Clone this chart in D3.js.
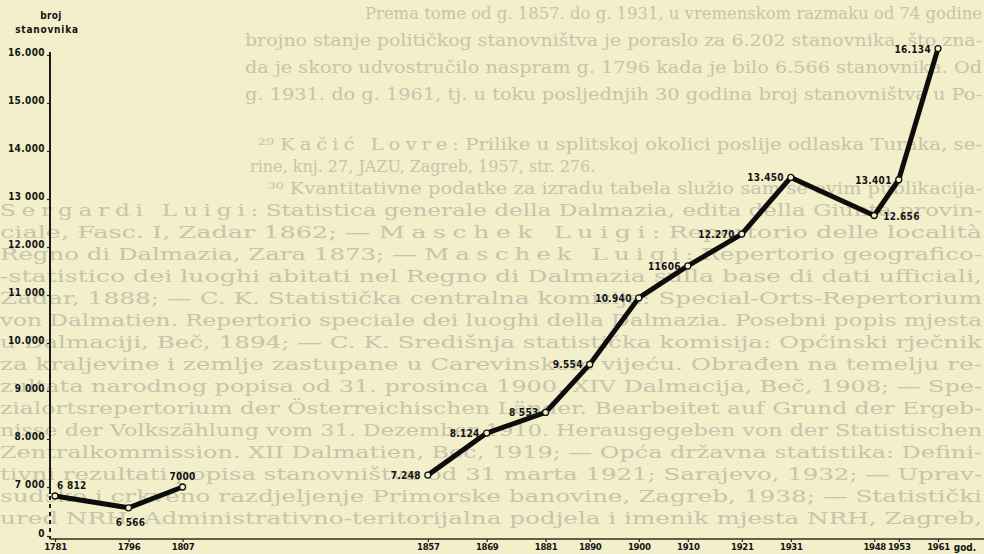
<!DOCTYPE html>
<html>
<head>
<meta charset="utf-8">
<script src="https://cdn.jsdelivr.net/npm/d3@7"></script>
<style>
  html, body { margin: 0; padding: 0; background: #f3efca; }
  svg { display: block; }
  .pagetext { font-family: "DejaVu Serif", serif; fill: #c6c4ad; }
  .chart text { font-family: "DejaVu Sans Condensed", "DejaVu Sans", sans-serif; font-weight: bold; fill: #141414; }
</style>
</head>
<body>
<div id="chart"></div>
<script>
// census years and number of inhabitants
var years = [1781, 1796, 1807, 1857, 1869, 1881, 1890, 1900, 1910, 1921, 1931, 1948, 1953, 1961];
var population = [6812, 6566, 7000, 7248, 8124, 8553, 9554, 10940, 11606, 12270, 13450, 12656, 13401, 16134];
var valueLabels = ["6 812", "6 566", "7000", "7.248", "8.124", "8 553", "9.554", "10.940", "11606", "12.270", "13.450", "12.656", "13.401", "16.134"];
var labelSide = ["ne", "s", "n", "w", "w", "w", "w", "w", "w", "w", "w", "e", "w", "w"];
var lastEarlyYear = 1807; // no data between 1807 and 1857

var yTicks = [0, 7000, 8000, 9000, 10000, 11000, 12000, 13000, 14000, 15000, 16000];
var yTickLabels = ["0", "7 000", "8.000", "9 000", "10.000", "11 000", "12.000", "13 000", "14.000", "15.000", "16.000"];
var yTitle = ["broj", "stanovnika"];
var xUnit = "god.";

// the printed page showing behind the chart; {..} = letter-spaced names
var pageLines = [
  {x: 365, y: 19, size: 16, t: "Prema tome od g. 1857. do g. 1931, u vremenskom razmaku od 74 godine"},
  {x: 245, y: 46, size: 17, t: "brojno stanje političkog stanovništva je poraslo za 6.202 stanovnika, što zna-"},
  {x: 245, y: 73, size: 17, t: "da je skoro udvostručilo naspram g. 1796 kada je bilo 6.566 stanovnika. Od"},
  {x: 245, y: 100, size: 17, t: "g. 1931. do g. 1961, tj. u toku posljednjih 30 godina broj stanovništva u Po-"},
  {x: 258, y: 150, size: 16, t: "²⁹ {Kačić Lovre}: Prilike u splitskoj okolici poslije odlaska Turaka, se-"},
  {x: 250, y: 172, size: 16, short: true, t: "rine, knj. 27, JAZU, Zagreb, 1957, str. 276."},
  {x: 268, y: 194, size: 16, t: "³⁰ Kvantitativne podatke za izradu tabela služio sam se ovim publikacija-"},
  {x: 0, y: 216, size: 16, t: "{Sergardi Luigi}: Statistica generale della Dalmazia, edita della Giunta provin-"},
  {x: 0, y: 238, size: 16, t: "ciale, Fasc. I, Zadar 1862; — {Maschek Luigi}: Repertorio delle località"},
  {x: 0, y: 260, size: 16, t: "Regno di Dalmazia, Zara 1873; — {Maschek Luigi}: Repertorio geografico-"},
  {x: 0, y: 282, size: 16, t: "-statistico dei luoghi abitati nel Regno di Dalmazia sulla base di dati ufficiali,"},
  {x: 0, y: 304, size: 16, t: "Zadar, 1888; — C. K. Statistička centralna komisija: Special-Orts-Repertorium"},
  {x: 0, y: 326, size: 16, t: "von Dalmatien. Repertorio speciale dei luoghi della Dalmazia. Posebni popis mjesta"},
  {x: 0, y: 348, size: 16, t: "u Dalmaciji, Beč, 1894; — C. K. Središnja statistička komisija: Općinski rječnik"},
  {x: 0, y: 370, size: 16, t: "za kraljevine i zemlje zastupane u Carevinskom vijeću. Obrađen na temelju re-"},
  {x: 0, y: 392, size: 16, t: "zultata narodnog popisa od 31. prosinca 1900. XIV Dalmacija, Beč, 1908; — Spe-"},
  {x: 0, y: 414, size: 16, t: "zialortsrepertorium der Österreichischen Länder. Bearbeitet auf Grund der Ergeb-"},
  {x: 0, y: 436, size: 16, t: "nisse der Volkszählung vom 31. Dezember 1910. Herausgegeben von der Statistischen"},
  {x: 0, y: 458, size: 16, t: "Zentralkommission. XII Dalmatien, Beč, 1919; — Opća državna statistika: Defini-"},
  {x: 0, y: 480, size: 16, t: "tivni rezultati popisa stanovništva od 31 marta 1921; Sarajevo, 1932; — Uprav-"},
  {x: 0, y: 502, size: 16, t: "sudsko i crkveno razdjeljenje Primorske banovine, Zagreb, 1938; — Statistički"},
  {x: 0, y: 524, size: 16, t: "ured NRH: Administrativno-teritorijalna podjela i imenik mjesta NRH, Zagreb,"}
];

var W = 984, H = 554;
var axisX = 50, axisY = 539, axisTop = 52;
var paper = "#f3efca";

var svg = d3.select("#chart").append("svg")
  .attr("width", W)
  .attr("height", H);

svg.append("rect").attr("width", W).attr("height", H).attr("fill", paper);

//Faded page text, justified to the right edge
var pt = svg.append("g").selectAll("text")
  .data(pageLines)
  .enter()
  .append("text")
  .attr("class", "pagetext")
  .attr("x", function(d){ return d.x; })
  .attr("y", function(d){ return d.y; })
  .style("font-size", function(d){ return d.size + "px"; })
  .each(function(d){
    if (!d.short) d3.select(this).attr("textLength", W - 2 - d.x).attr("lengthAdjust", "spacingAndGlyphs");
  });
pt.selectAll("tspan")
  .data(function(d){ return d.t.split(/[{}]/); })
  .enter()
  .append("tspan")
  .style("letter-spacing", function(d, i){ return i % 2 ? "4px" : null; })
  .text(function(d){ return d; });

var g = svg.append("g").attr("class", "chart");

var x = d3.scaleLinear().domain([1781, 1961]).range([55, 938]);
var y = d3.scaleLinear().domain([7000, 16000]).range([487, 55]);
// axis only: the 0 tick sits below a break in the scale
var yAxisScale = d3.scaleLinear().domain([0, 7000, 16000]).range([536, 487, 55]);

var points = years.map(function(yr, i){
  return {year: yr, value: population[i], label: valueLabels[i], side: labelSide[i]};
});
var segs = [
  points.filter(function(p){ return p.year <= lastEarlyYear; }),
  points.filter(function(p){ return p.year > lastEarlyYear; })
];

//Y axis
var yAxis = g.append("g")
  .attr("transform", "translate(" + axisX + ",0)")
  .call(d3.axisLeft(yAxisScale).tickValues(yTicks).tickSize(3).tickPadding(2)
    .tickFormat(function(d, i){ return yTickLabels[i]; }));
yAxis.select(".domain").remove();
yAxis.selectAll("line").attr("stroke", "#222").attr("stroke-width", 1.2);
yAxis.selectAll("text").style("font-size", "10px").style("letter-spacing", "0.4px").attr("dy", "0");

g.append("line")
  .attr("x1", axisX).attr("x2", axisX)
  .attr("y1", axisTop).attr("y2", 494)
  .attr("stroke", "#1a1a1a").attr("stroke-width", 2);
g.append("line")
  .attr("x1", axisX).attr("x2", axisX)
  .attr("y1", 496).attr("y2", axisY)
  .attr("stroke", "#1a1a1a").attr("stroke-width", 2)
  .attr("stroke-dasharray", "4,4");

//X axis
var xAxis = g.append("g")
  .attr("transform", "translate(0," + axisY + ")")
  .call(d3.axisBottom(x).tickValues(years).tickSize(3).tickPadding(1).tickFormat(d3.format("d")));
xAxis.select(".domain").remove();
xAxis.selectAll("line").attr("stroke", "#222").attr("stroke-width", 1.2);
xAxis.selectAll("text").style("font-size", "9.5px").style("letter-spacing", "-0.3px");

g.append("line")
  .attr("x1", axisX).attr("x2", W)
  .attr("y1", axisY).attr("y2", axisY)
  .attr("stroke", "#3a2a20").attr("stroke-width", 1.5);

g.append("text")
  .attr("x", x(1961) + 27)
  .attr("y", axisY + 12)
  .attr("text-anchor", "middle")
  .style("font-size", "10px")
  .text(xUnit);

//Axis title
g.selectAll(".ytitle")
  .data(yTitle)
  .enter()
  .append("text")
  .attr("class", "ytitle")
  .attr("x", function(d, i){ return i ? 47 : 51; })
  .attr("y", function(d, i){ return 19 + i * 14; })
  .attr("text-anchor", "middle")
  .style("font-size", "10px")
  .style("letter-spacing", function(d, i){ return i ? "0.8px" : "0.3px"; })
  .text(function(d){ return d; });

//Population line
var line = d3.line()
  .x(function(d){ return x(d.year); })
  .y(function(d){ return y(d.value); });

g.selectAll(".pop")
  .data(segs)
  .enter()
  .append("path")
  .attr("class", "pop")
  .attr("d", line)
  .attr("fill", "none")
  .attr("stroke", "#0d0d0d")
  .attr("stroke-width", 5)
  .attr("stroke-linejoin", "round");

g.selectAll(".node")
  .data(points)
  .enter()
  .append("circle")
  .attr("class", "node")
  .attr("cx", function(d){ return x(d.year); })
  .attr("cy", function(d){ return y(d.value); })
  .attr("r", 3)
  .attr("fill", paper)
  .attr("stroke", "#111")
  .attr("stroke-width", 1.3);

//Value labels
var place = {
  ne: {dx: 2, dy: -7, anchor: "start"},
  n:  {dx: 0, dy: -7, anchor: "middle"},
  s:  {dx: 2, dy: 18, anchor: "middle"},
  w:  {dx: -7, dy: 4, anchor: "end"},
  e:  {dx: 9, dy: 4, anchor: "start"}
};
g.selectAll(".vlabel")
  .data(points)
  .enter()
  .append("text")
  .attr("class", "vlabel")
  .attr("x", function(d){ return x(d.year) + place[d.side].dx; })
  .attr("y", function(d){ return y(d.value) + place[d.side].dy; })
  .attr("text-anchor", function(d){ return place[d.side].anchor; })
  .style("font-size", "10px")
  .style("letter-spacing", "0.3px")
  .text(function(d){ return d.label; });
</script>
</body>
</html>
